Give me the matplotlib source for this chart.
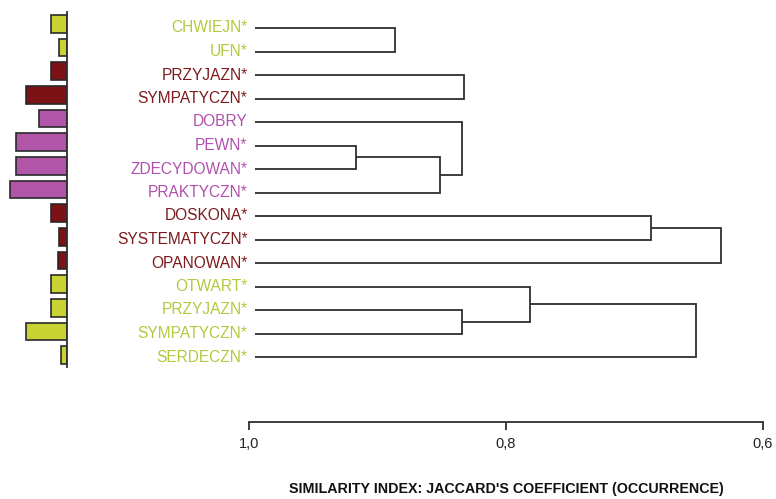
import matplotlib
matplotlib.use("Agg")
import matplotlib.pyplot as plt
import matplotlib.transforms as mtransforms

# ---------------- data ----------------
labels = ["CHWIEJN*", "UFN*", "PRZYJAZN*", "SYMPATYCZN*", "DOBRY", "PEWN*",
          "ZDECYDOWAN*", "PRAKTYCZN*", "DOSKONA*", "SYSTEMATYCZN*", "OPANOWAN*",
          "OTWART*", "PRZYJAZN*", "SYMPATYCZN*", "SERDECZN*"]
groups = ["g", "g", "r", "r", "m", "m", "m", "m", "r", "r", "r", "g", "g", "g", "g"]
bar_values = [2.0, 0.97, 2.0, 5.26, 3.54, 6.6, 6.6, 7.3, 2.0, 0.97, 1.15, 2.0, 2.0, 5.26, 0.81]

# merges: (left node, right node, similarity); nodes >= 15 are earlier merges
merges = [
    (0, 1, 0.886),      # 15
    (2, 3, 0.833),      # 16
    (5, 6, 0.917),      # 17
    (17, 7, 0.851),     # 18
    (4, 18, 0.834),     # 19
    (8, 9, 0.687),      # 20
    (20, 10, 0.633),    # 21
    (12, 13, 0.834),    # 22
    (11, 22, 0.781),    # 23
    (23, 14, 0.652),    # 24
]
xticks = [1.0, 0.8, 0.6]
xtick_labels = ["1,0", "0,8", "0,6"]
xlabel = "SIMILARITY INDEX: JACCARD'S COEFFICIENT (OCCURRENCE)"

bar_colors = {"g": "#c8d232", "r": "#7c1216", "m": "#b055a8"}
text_colors = {"g": "#b4c83c", "r": "#7c1a1c", "m": "#b050ae"}

W, H = 776, 499
fig = plt.figure(figsize=(W / 100, H / 100), dpi=100)
fig.patch.set_facecolor("white")

FONT = ["Liberation Sans", "DejaVu Sans"]
LINE = "#2e2e2e"

# ---------------- dendrogram ----------------
ax_left, ax_right = 249, 763
row0, rowstep = 28.0, 23.5
ax = fig.add_axes([ax_left / W, 0, (ax_right - ax_left) / W, 1])
ax.set_xlim(1.0, 0.6)
ax.set_ylim((H - row0) / rowstep, -row0 / rowstep)
ax.axis("off")

leaf_x = 0.9953
pos = {i: (leaf_x, float(i)) for i in range(len(labels))}
for k, (a, b, h) in enumerate(merges):
    xa, ya = pos[a]
    xb, yb = pos[b]
    ax.plot([xa, h, h, xb], [ya, ya, yb, yb], color=LINE, lw=1.3,
            solid_joinstyle="miter", solid_capstyle="butt")
    pos[len(labels) + k] = (h, (ya + yb) / 2)

offset = mtransforms.ScaledTranslation(-1.5 / 100, 0, fig.dpi_scale_trans)
for i, (lab, g) in enumerate(zip(labels, groups)):
    ax.text(1.0, i, lab, ha="right", va="center", color=text_colors[g],
            fontsize=11.2, family=FONT, transform=ax.transData + offset)

# ---------------- bottom axis ----------------
axis_y = 421.5
axb = fig.add_axes([ax_left / W, (H - axis_y) / H, (ax_right - ax_left) / W, 0.0001])
axb.set_xlim(1.0, 0.6)
axb.set_yticks([])
for s in ["top", "left", "right"]:
    axb.spines[s].set_visible(False)
axb.spines["bottom"].set_color(LINE)
axb.spines["bottom"].set_linewidth(1.3)
axb.set_xticks(xticks)
axb.set_xticklabels(xtick_labels, family=FONT, fontsize=10.5, color="#222222")
axb.tick_params(axis="x", direction="out", length=5.8, width=1.3, color=LINE, pad=5.5)
axb.patch.set_visible(False)

fig.text(506 / W, 1 - 489 / H, xlabel, ha="center", va="center",
         fontsize=10.3, fontweight="bold", family=FONT, color="#111111")

# ---------------- side bars ----------------
bar_top, bar_bottom, bar_right = 12, 367, 67
axs = fig.add_axes([0, (H - bar_bottom) / H, bar_right / W, (bar_bottom - bar_top) / H])
n = len(labels)
axs.barh(range(n), bar_values, height=0.74,
         color=[bar_colors[g] for g in groups], edgecolor="#2a2a2a", linewidth=1.2)
axs.set_ylim(n - 0.5, -0.5)
axs.set_xlim(bar_right / 7.8, 0)
axs.set_xticks([])
axs.set_yticks([])
for s in ["top", "left", "bottom"]:
    axs.spines[s].set_visible(False)
axs.spines["right"].set_color(LINE)
axs.spines["right"].set_linewidth(1.3)
axs.patch.set_visible(False)

fig.savefig("out.png", dpi=100, facecolor="white")
